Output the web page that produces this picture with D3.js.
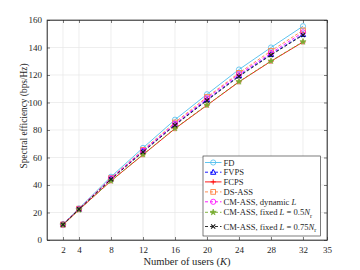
<!DOCTYPE html>
<html><head><meta charset="utf-8">
<script src="https://cdn.jsdelivr.net/npm/d3@7"></script>
<style>body{margin:0;background:#fff}svg{display:block}text{font-family:"Liberation Serif","Times New Roman",serif;fill:#262626}</style>
</head><body><div id="c"></div>
<script>
const users = [2, 4, 8, 12, 16, 20, 24, 28, 32];
const xTicks = [2, 4, 8, 12, 16, 20, 24, 28, 32, 35];
const yTicks = [0, 20, 40, 60, 80, 100, 120, 140, 160];
const fd      = [11.5, 23.0, 46.0, 67.0, 87.5, 106.0, 124.0, 140.0, 155.5];
const fvps    = [11.2, 22.5, 44.5, 64.5, 84.0, 102.0, 119.5, 135.0, 149.5];
const fcps    = [11.0, 22.0, 43.0, 62.0, 81.0, 98.0, 115.0, 130.0, 144.0];
const dsass   = [11.3, 22.8, 45.0, 65.5, 85.5, 104.0, 121.5, 137.5, 152.5];
const cmDyn   = [11.3, 22.6, 44.8, 65.0, 84.5, 103.0, 120.5, 136.0, 151.0];
const cmFix05 = [11.0, 22.0, 43.0, 62.2, 81.2, 98.2, 115.2, 130.2, 144.2];
const cmFix075= [11.2, 22.4, 44.2, 64.0, 83.5, 101.5, 119.0, 134.5, 149.0];

const series = [
  {name:"FD", v:fd, color:"#4DBEEE", dash:null, marker:"circle"},
  {name:"FVPS", v:fvps, color:"#0000FF", dash:"3,2", marker:"triangle"},
  {name:"FCPS", v:fcps, color:"#FF0000", dash:null, marker:"plus"},
  {name:"DS-ASS", v:dsass, color:"#FF8040", dash:"3,2", marker:"square"},
  {name:"CM-ASS, dynamic L", v:cmDyn, color:"#FF00FF", dash:"3,2", marker:"circle"},
  {name:"CM-ASS, fixed L = 0.5Nr", v:cmFix05, color:"#77AC30", dash:"3,2", marker:"star"},
  {name:"CM-ASS, fixed L = 0.75Nr", v:cmFix075, color:"#1a1a1a", dash:"3,2", marker:"cross"}
];

const W=360,H=270, m={l:47,r:33,t:20,b:30};
const svg=d3.select("#c").append("svg").attr("width",W).attr("height",H);
const x=d3.scaleLinear().domain([0,35]).range([m.l,W-m.r]);
const y=d3.scaleLinear().domain([0,160]).range([H-m.b,m.t]);
const fs=9;

function fit(t,target){ const L=t.node().getComputedTextLength(); const f=parseFloat(t.attr("font-size")); t.attr("font-size",(f*target/L).toFixed(2)); return f*target/L; }

// grid
svg.append("g").selectAll("line").data(xTicks).join("line")
  .attr("x1",d=>x(d)).attr("x2",d=>x(d)).attr("y1",y(0)).attr("y2",y(160))
  .attr("stroke","#e6e6e6").attr("stroke-width",0.7);
svg.append("g").selectAll("line").data(yTicks).join("line")
  .attr("x1",x(0)).attr("x2",x(35)).attr("y1",d=>y(d)).attr("y2",d=>y(d))
  .attr("stroke","#e6e6e6").attr("stroke-width",0.7);

// axes
const ax=svg.append("g").attr("transform",`translate(0,${y(0)})`)
  .call(d3.axisBottom(x).tickValues(xTicks).tickSize(-3).tickPadding(7).tickSizeOuter(0));
const ay=svg.append("g").attr("transform",`translate(${x(0)},0)`)
  .call(d3.axisLeft(y).tickValues(yTicks).tickSize(-3).tickPadding(5).tickSizeOuter(0));
const at=svg.append("g").attr("transform",`translate(0,${y(160)})`)
  .call(d3.axisTop(x).tickValues(xTicks).tickSize(-3).tickFormat("").tickSizeOuter(0));
const ar=svg.append("g").attr("transform",`translate(${x(35)},0)`)
  .call(d3.axisRight(y).tickValues(yTicks).tickSize(-3).tickFormat("").tickSizeOuter(0));
[ax,ay,at,ar].forEach(g=>{
  g.selectAll("path").attr("stroke","#262626").attr("stroke-width",0.6);
  g.selectAll("line").attr("stroke","#262626").attr("stroke-width",0.6);
  g.selectAll("text").attr("font-size",fs).style("font-family",'"Liberation Serif",serif').attr("fill","#262626");
});
svg.append("rect").attr("x",x(0)).attr("y",y(160)).attr("width",x(35)-x(0)).attr("height",y(0)-y(160))
  .attr("fill","none").attr("stroke","#262626").attr("stroke-width",0.6);

// labels
const xl=svg.append("text").attr("x",(x(0)+x(35))/2).attr("y",265).attr("text-anchor","middle").attr("font-size",10);
xl.append("tspan").text("Number of users (");
xl.append("tspan").attr("font-style","italic").text("K");
xl.append("tspan").text(")");
fit(xl,87);
const yl=svg.append("text").attr("transform",`translate(27,116) rotate(-90)`)
  .attr("text-anchor","middle").attr("font-size",10).text("Spectral efficiency (bps/Hz)");
fit(yl,105);

// markers
function drawMarker(g,type,cx,cy,color){
  const s=2.6;
  if(type==="circle") g.append("circle").attr("cx",cx).attr("cy",cy).attr("r",s).attr("fill","none").attr("stroke",color).attr("stroke-width",0.8);
  else if(type==="triangle") g.append("path").attr("d",`M${cx},${cy-s*1.1}L${cx+s},${cy+s*0.8}L${cx-s},${cy+s*0.8}Z`).attr("fill","none").attr("stroke",color).attr("stroke-width",1);
  else if(type==="plus") g.append("path").attr("d",`M${cx-s},${cy}H${cx+s}M${cx},${cy-s}V${cy+s}`).attr("stroke",color).attr("stroke-width",0.9);
  else if(type==="square") g.append("rect").attr("x",cx-s*0.9).attr("y",cy-s*0.9).attr("width",s*1.8).attr("height",s*1.8).attr("fill","none").attr("stroke",color).attr("stroke-width",0.9);
  else if(type==="star") g.append("path").attr("d",d3.symbol(d3.symbolStar,12)()).attr("transform",`translate(${cx},${cy})`).attr("fill",color).attr("stroke",color).attr("stroke-width",0.6);
  else if(type==="cross") g.append("path").attr("d",`M${cx-s*0.8},${cy-s*0.8}L${cx+s*0.8},${cy+s*0.8}M${cx-s*0.8},${cy+s*0.8}L${cx+s*0.8},${cy-s*0.8}`).attr("stroke",color).attr("stroke-width",1.1);
}

const line=d3.line().x((d,i)=>x(users[i])).y(d=>y(d));
const plot=svg.append("g");
series.forEach(s=>{
  plot.append("path").datum(s.v).attr("d",line).attr("fill","none").attr("stroke",s.color)
    .attr("stroke-width",0.9).attr("stroke-dasharray",s.dash);
  const mg=plot.append("g");
  s.v.forEach((v,i)=>drawMarker(mg,s.marker,x(users[i]),y(v),s.color));
});

// legend
const lx=203, ly=156, lw=117.5, lh=80;
const lg=svg.append("g");
lg.append("rect").attr("x",lx).attr("y",ly).attr("width",lw).attr("height",lh).attr("fill","#fff").attr("stroke","#262626").attr("stroke-width",0.6);
const rows=[162.5,172.2,181.9,191.9,201.8,212.3,226.5];
const texts=[];
series.forEach((s,i)=>{
  const yy=rows[i];
  lg.append("line").attr("x1",205).attr("x2",221.5).attr("y1",yy).attr("y2",yy).attr("stroke",s.color).attr("stroke-width",0.9).attr("stroke-dasharray",s.dash);
  drawMarker(lg,s.marker,213.2,yy,s.color);
  const t=lg.append("text").attr("x",223.5).attr("y",yy+3).attr("font-size",8.5);
  if(i<4) t.text(s.name);
  else if(i===4){ t.append("tspan").text("CM-ASS, dynamic "); t.append("tspan").attr("font-style","italic").text("L"); }
  else {
    const val = i===5 ? "0.5" : "0.75";
    t.append("tspan").text("CM-ASS, fixed ");
    t.append("tspan").attr("font-style","italic").text("L");
    t.append("tspan").text(" = "+val);
    t.append("tspan").attr("font-style","italic").text("N");
    t.append("tspan").attr("font-size",6).attr("dy",2.5).text("r");
  }
  texts.push(t);
});
const lf=Math.min(9, fit(texts[6],93));
texts.forEach(t=>t.attr("font-size",lf.toFixed(2)));
</script></body></html>
